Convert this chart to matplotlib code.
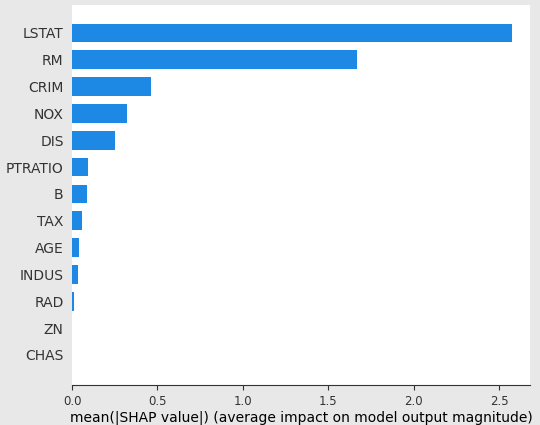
import matplotlib
matplotlib.use("Agg")
import matplotlib.pyplot as plt

features = ["LSTAT", "RM", "CRIM", "NOX", "DIS", "PTRATIO", "B", "TAX", "AGE", "INDUS", "RAD", "ZN", "CHAS"]
values = [2.576, 1.667, 0.46, 0.32, 0.25, 0.093, 0.087, 0.058, 0.04, 0.035, 0.012, 0.002, 0.001]

fig = plt.figure(figsize=(5.4, 4.25), dpi=100, facecolor="#e8e8e8")
ax = fig.add_axes([72/540, 40/425, 458/540, 380/425])
ax.set_facecolor("white")
y = list(range(len(features)))[::-1]
ax.barh(y, values, height=0.7, color="#1e88e5", align="center")
ax.set_yticks(y)
ax.set_yticklabels(features, fontsize=10, color="#333333")
ax.set_xlim(0, 2.68)
ax.set_ylim(-1.12, len(features) - 1 + 1.04)
ax.set_xticks([0, 0.5, 1.0, 1.5, 2.0, 2.5])
ax.tick_params(axis="x", labelsize=8.5, colors="#333333")
ax.tick_params(axis="y", length=0, pad=6)
for s in ["top", "right", "left"]:
    ax.spines[s].set_visible(False)
ax.spines["bottom"].set_color("#333333")
ax.set_xlabel("mean(|SHAP value|) (average impact on model output magnitude)", fontsize=10, color="black", labelpad=2)
fig.savefig("out.png", dpi=100, facecolor=fig.get_facecolor())
